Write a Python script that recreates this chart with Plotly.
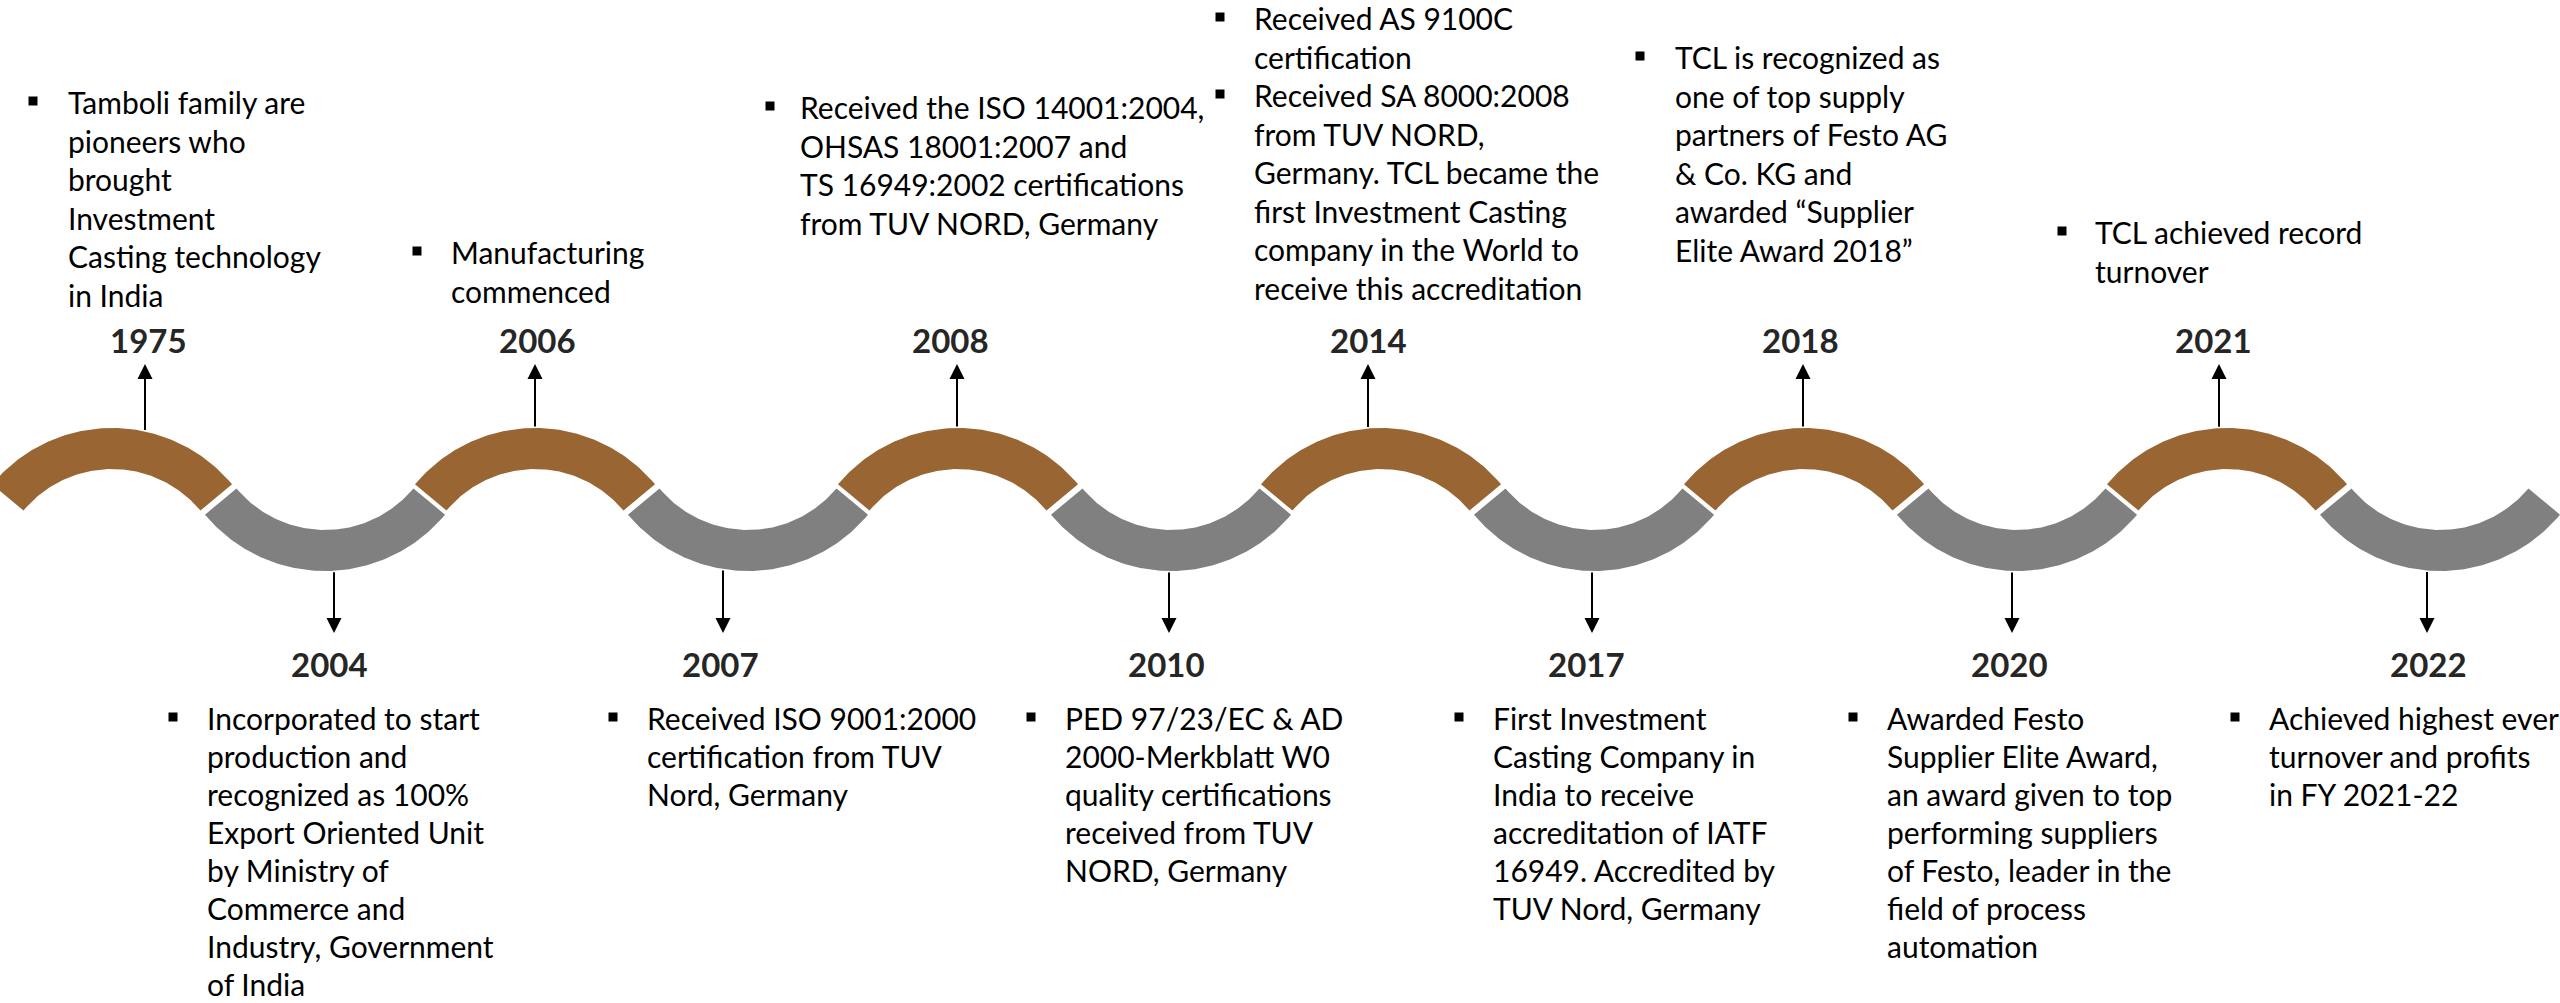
import numpy as np
import plotly.graph_objects as go

# ---------------- data ----------------
years_top = ["1975", "2006", "2008", "2014", "2018", "2021"]
years_bottom = ["2004", "2007", "2010", "2017", "2020", "2022"]

notes_top = [
    [["Tamboli family are", "pioneers who", "brought", "Investment", "Casting technology", "in India"]],
    [["Manufacturing", "commenced"]],
    [["Received the ISO 14001:2004,", "OHSAS 18001:2007 and", "TS 16949:2002 certifications",
      "from TUV NORD, Germany"]],
    [["Received AS 9100C", "certification"],
     ["Received SA 8000:2008", "from TUV NORD,", "Germany. TCL became the", "first Investment Casting",
      "company in the World to", "receive this accreditation"]],
    [["TCL is recognized as", "one of top supply", "partners of Festo AG", "& Co. KG and",
      "awarded \u201cSupplier", "Elite Award 2018\u201d"]],
    [["TCL achieved record", "turnover"]],
]
notes_bottom = [
    [["Incorporated to start", "production and", "recognized as 100%", "Export Oriented Unit",
      "by Ministry of", "Commerce and", "Industry, Government", "of India"]],
    [["Received ISO 9001:2000", "certification from TUV", "Nord, Germany"]],
    [["PED 97/23/EC & AD", "2000-Merkblatt W0", "quality certifications", "received from TUV",
      "NORD, Germany"]],
    [["First Investment", "Casting Company in", "India to receive", "accreditation of IATF",
      "16949. Accredited by", "TUV Nord, Germany"]],
    [["Awarded Festo", "Supplier Elite Award,", "an award given to top", "performing suppliers",
      "of Festo, leader in the", "field of process", "automation"]],
    [["Achieved highest ever", "turnover and profits", "in FY 2021-22"]],
]

# ---------------- layout (pixel positions) ----------------
W, H = 2560, 1003
PERIOD = 423
BROWN_X0, GRAY_X0 = 112, 325
BROWN_CY, GRAY_CY = 584, 415
R_OUT, R_IN = 156, 115
HALF_ANGLE = np.radians(50.3)
BROWN, GRAY = "#996633", "#808080"

arrow_x_top = [145, 535, 957, 1368, 1803, 2219]
label_x_top = [148, 537, 950, 1368, 1800, 2213]
bullet_x_top = [33, 417, 770, 1220, 1640, 2062]
text_x_top = [66, 449, 798, 1252, 1673, 2093]
first_y_top = [102, 252, 107, 18, 57, 232]

arrow_x_bot = [334, 723, 1169, 1592, 2012, 2427]
label_x_bot = [329, 720, 1166, 1586, 2009, 2428]
bullet_x_bot = [173, 613, 1031, 1459, 1853, 2235]
text_x_bot = [205, 645, 1063, 1491, 1885, 2267]
first_y_bot = 718

LINE_TOP = 38.5
LINE_BOT = 38.0
TOP_LABEL_Y, BOT_LABEL_Y = 340, 664
TOP_TIP_Y, BOT_TIP_Y = 364, 633

BODY_FONT = dict(family="Lato", size=30, color="#000000")
YEAR_FONT = dict(family="Lato", size=33, color="#262626", weight=700)

fig = go.Figure()


def arc_polygon(cx, cy, up):
    t = np.linspace(-HALF_ANGLE, HALF_ANGLE, 120)
    s = -1 if up else 1
    xo = cx + R_OUT * np.sin(t)
    yo = cy + s * R_OUT * np.cos(t)
    xi = cx + R_IN * np.sin(t[::-1])
    yi = cy + s * R_IN * np.cos(t[::-1])
    return np.concatenate([xo, xi, xo[:1]]), np.concatenate([yo, yi, yo[:1]])


for k in range(len(years_top)):
    x, y = arc_polygon(BROWN_X0 + PERIOD * k, BROWN_CY, True)
    fig.add_trace(go.Scatter(x=x, y=y, mode="lines", fill="toself", fillcolor=BROWN,
                             line=dict(width=0, color=BROWN), hoverinfo="skip", showlegend=False))
for k in range(len(years_bottom)):
    x, y = arc_polygon(GRAY_X0 + PERIOD * k, GRAY_CY, False)
    fig.add_trace(go.Scatter(x=x, y=y, mode="lines", fill="toself", fillcolor=GRAY,
                             line=dict(width=0, color=GRAY), hoverinfo="skip", showlegend=False))

annotations = []
bx, by = [], []


def add_block(items, bullet_x, text_x, y0, step):
    y = y0
    for item in items:
        bx.append(bullet_x)
        by.append(y - 1)
        for line in item:
            annotations.append(dict(x=text_x, y=y, xref="x", yref="y", text=line, showarrow=False,
                                    xanchor="left", yanchor="middle", font=BODY_FONT))
            y += step


for k, yr in enumerate(years_top):
    cx = BROWN_X0 + PERIOD * k
    ax = arrow_x_top[k]
    y_start = BROWN_CY - np.sqrt(R_OUT ** 2 - (ax - cx) ** 2)
    annotations.append(dict(x=ax, y=TOP_TIP_Y, ax=ax, ay=y_start, xref="x", yref="y",
                            axref="x", ayref="y", text="", showarrow=True, arrowhead=2,
                            arrowsize=1.5, arrowwidth=2, arrowcolor="#000000", standoff=0))
    annotations.append(dict(x=label_x_top[k], y=TOP_LABEL_Y, xref="x", yref="y", text=yr,
                            showarrow=False, xanchor="center", yanchor="middle", font=YEAR_FONT))
    add_block(notes_top[k], bullet_x_top[k], text_x_top[k], first_y_top[k], LINE_TOP)

for k, yr in enumerate(years_bottom):
    cx = GRAY_X0 + PERIOD * k
    ax = arrow_x_bot[k]
    y_start = GRAY_CY + np.sqrt(R_OUT ** 2 - (ax - cx) ** 2)
    annotations.append(dict(x=ax, y=BOT_TIP_Y, ax=ax, ay=y_start, xref="x", yref="y",
                            axref="x", ayref="y", text="", showarrow=True, arrowhead=2,
                            arrowsize=1.5, arrowwidth=2, arrowcolor="#000000", standoff=0))
    annotations.append(dict(x=label_x_bot[k], y=BOT_LABEL_Y, xref="x", yref="y", text=yr,
                            showarrow=False, xanchor="center", yanchor="middle", font=YEAR_FONT))
    add_block(notes_bottom[k], bullet_x_bot[k], text_x_bot[k], first_y_bot, LINE_BOT)

fig.add_trace(go.Scatter(x=bx, y=by, mode="markers",
                         marker=dict(symbol="square", size=9, color="#000000"),
                         hoverinfo="skip", showlegend=False))

fig.update_layout(
    width=W, height=H,
    margin=dict(l=0, r=0, t=0, b=0, pad=0),
    paper_bgcolor="#ffffff", plot_bgcolor="#ffffff",
    xaxis=dict(range=[0, W], visible=False, fixedrange=True),
    yaxis=dict(range=[H, 0], visible=False, fixedrange=True),
    annotations=annotations,
    showlegend=False,
)

fig.write_html("out.html", post_script="document.body.style.margin='0';",
               config={"displayModeBar": False})
